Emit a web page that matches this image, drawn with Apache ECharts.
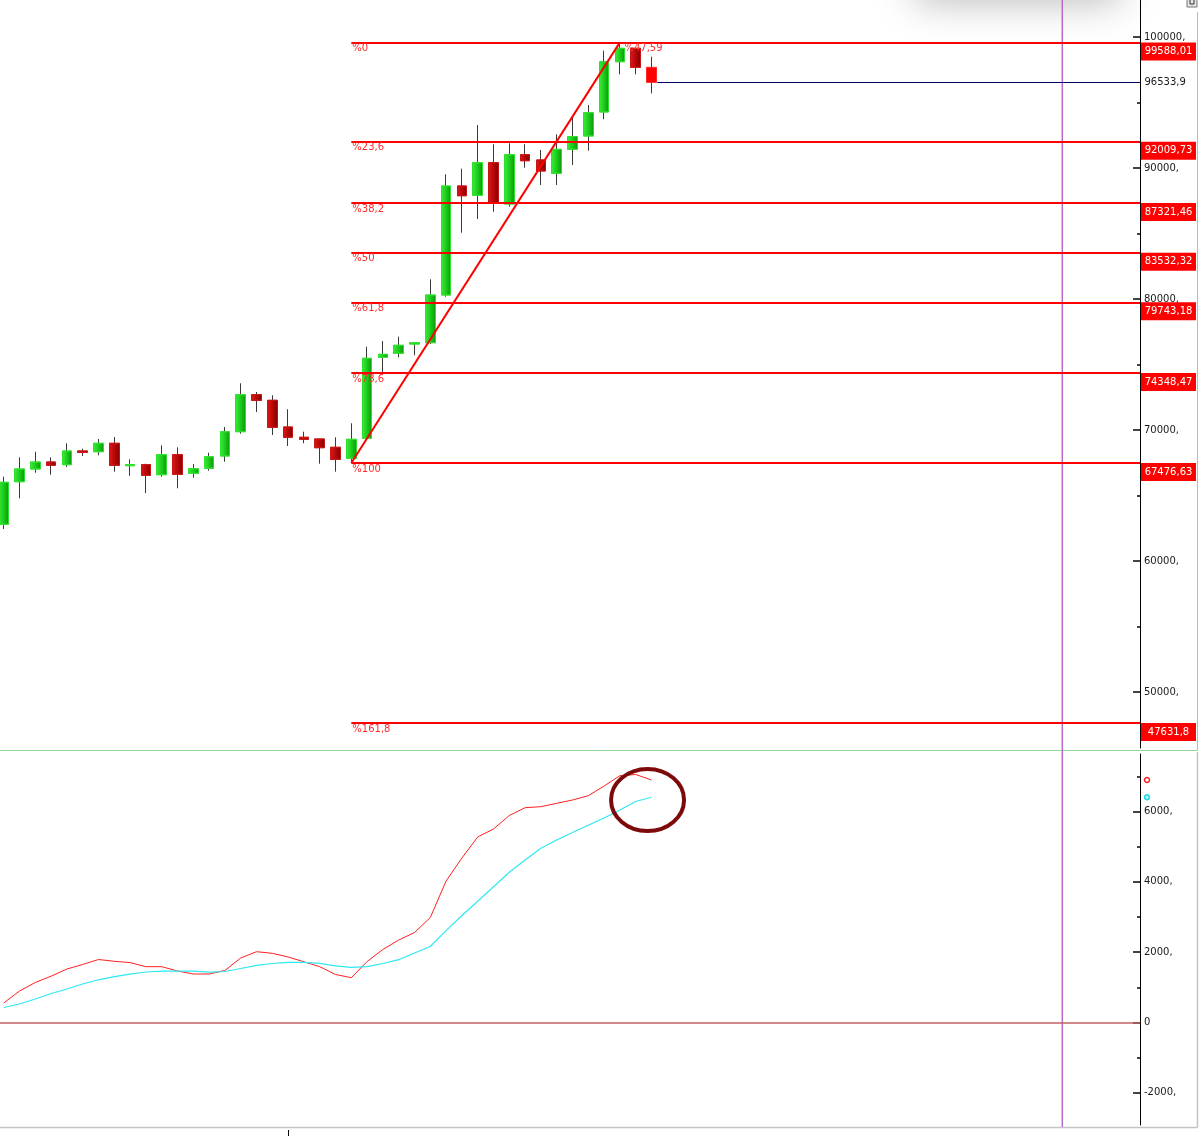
<!DOCTYPE html>
<html><head><meta charset="utf-8">
<script src="https://cdn.jsdelivr.net/npm/echarts@6/dist/echarts.min.js"></script>
<style>html,body{margin:0;padding:0;background:#fff}#c{width:1200px;height:1136px}</style>
</head><body><div id="c"></div>
<script>
// ---------- data ----------
const opens  = [62802,66053,67023,67557,67351,68397,68343,68985,67275,67351,66588,68114,66695,67076,68015,69870,72695,72267,70229,69443,69313,68679,67840,69366,75550,75855,76565,76664,80305,88626,87916,90405,87252,91015,90611,89595,91427,92443,94275,98114,99137,97687];
const closes = [66008,67023,67557,67305,68397,68298,68985,67305,67351,66542,68114,66618,67046,67962,69870,72695,72267,70206,69443,69290,68649,67763,69290,75473,75779,76466,76664,80305,88626,87885,90405,87305,91015,90557,89771,91427,92405,94221,98114,99137,97687,96533.9];
const lows   = [62443,64786,66740,66588,67176,68015,68069,66817,66511,65191,66435,65550,66359,66893,67580,69717,71374,69618,68779,68985,67427,66817,67476.63,69300,74405,75550,75702,76560,80176,85061,86107,86664,87046,90023,88702,88702,90229,91321,93718,97153,97153,95702];
const highs  = [66435,67916,68343,67916,68985,68572,69313,69466,67763,67427,68832,68679,67405,68267,70229,73565,72901,72649,71580,69870,69313,69443,70511,76359,76794,77122,76664,81504,89519,89947,93282,91809,91886,91809,91374,92572,93855,94809,98954,99588.01,99137,98496];

const macdLine   = [555,896,1138,1317,1522,1650,1792,1741,1704,1588,1588,1465,1380,1380,1479,1835,2014,1969,1863,1727,1588,1366,1275,1735,2077,2347,2560,2987,4026,4680,5277,5505,5889,6111,6140,6236,6330,6452,6728,7021,7056,6899];
const signalLine = [427,526,669,825,953,1095,1215,1306,1374,1437,1459,1465,1459,1431,1451,1536,1627,1679,1713,1713,1684,1613,1570,1588,1679,1787,1977,2162,2612,3044,3448,3861,4273,4623,4959,5192,5406,5610,5818,6046,6287,6407];

const fibLevels      = [99588.01,92009.73,87321.46,83532.32,79743.18,74348.47,67476.63,47631.8];
const fibNames       = ['%0','%23,6','%38,2','%50','%61,8','%78,6','%100','%161,8'];
const fibValueLabels = ['99588,01','92009,73','87321,46','83532,32','79743,18','74348,47','67476,63','47631,8'];
const swingStart = 22, swingEnd = 39;
const swingPctLabel = '%47,59';
const lastPrice = 96533.9, lastPriceLabel = '96533,9';

const priceMajorTicks = [50000,60000,70000,80000,90000,100000];
const priceMinorTicks = [55000,65000,75000,85000,95000];
const indMajorTicks = [-2000,0,2000,4000,6000];
const indMinorTicks = [-1000,1000,3000,5000,7000];
const verticalMarkerX = 67;
const bottomTickX = 18;
const annotCenter = [40.75, 6330];

// ---------- axis ranges ----------
const X_MIN = -0.2342, X_MAX = 71.9177;
const PRICE_MIN = 45725.2, PRICE_MAX = 102824.4;
const IND_MIN = -2916.1, IND_MAX = 7638.7;
const FONT = 'DejaVu Sans';

const fmtTick = v => (v === 0 ? '0' : v + ',');

const greenGrad = {type:'linear',x:0,y:0,x2:1,y2:0,colorStops:[{offset:0,color:'#3cf03c'},{offset:0.5,color:'#1ccc1c'},{offset:1,color:'#0a960a'}]};
const redGrad   = {type:'linear',x:0,y:0,x2:1,y2:0,colorStops:[{offset:0,color:'#e01818'},{offset:0.5,color:'#b80808'},{offset:1,color:'#7a0000'}]};

const n = opens.length;
const wickData = opens.map((o,i)=>[i,o,closes[i],lows[i],highs[i]]);
const bodyData = opens.map((o,i)=>{
  const v=[i,o,closes[i],Math.min(o,closes[i]),Math.max(o,closes[i])];
  return i===n-1 ? {value:v,itemStyle:{color0:'#ff0000',borderColor0:'#ff2a2a'}} : v;
});

function yAxisPair(grid, min, max, majors, minors){
  return [
    {gridIndex:grid,type:'value',position:'right',min:min,max:max,scale:true,
     splitLine:{show:false},
     axisLine:{show:true,onZero:false,lineStyle:{color:'#000',width:1}},
     axisTick:{show:true,inside:true,length:7,customValues:majors,lineStyle:{color:'#444',width:2}},
     axisLabel:{show:true,customValues:majors,formatter:fmtTick,color:'#1a1a1a',fontSize:10,fontFamily:FONT,margin:4}},
    {gridIndex:grid,type:'value',position:'right',min:min,max:max,scale:true,
     splitLine:{show:false},axisLine:{show:false,onZero:false},
     axisTick:{show:true,inside:true,length:3,customValues:minors,lineStyle:{color:'#444',width:2}},
     axisLabel:{show:false}}
  ];
}

const option = {
  animation:false,
  backgroundColor:'#fff',
  textStyle:{fontFamily:FONT},
  grid:[
    {left:0,right:60,top:0,height:748},
    {left:0,right:60,top:754,height:371}
  ],
  xAxis:[
    {gridIndex:0,type:'value',min:X_MIN,max:X_MAX,show:false,axisLine:{onZero:false}},
    {gridIndex:1,type:'value',position:'bottom',min:X_MIN,max:X_MAX,show:true,offset:5,
     axisLine:{show:false,onZero:false},splitLine:{show:false},axisLabel:{show:false},
     axisTick:{show:true,length:6,customValues:[bottomTickX],lineStyle:{color:'#000',width:1}}}
  ],
  yAxis:[].concat(
    yAxisPair(0,PRICE_MIN,PRICE_MAX,priceMajorTicks,priceMinorTicks),
    yAxisPair(1,IND_MIN,IND_MAX,indMajorTicks,indMinorTicks)
  ),
  series:[
    {
      name:'wicks',type:'candlestick',xAxisIndex:0,yAxisIndex:0,data:wickData,barWidth:1,
      itemStyle:{color:'#3a3a3a',color0:'#3a3a3a',borderColor:'#3a3a3a',borderColor0:'#3a3a3a',borderWidth:1}
    },
    {
      name:'bodies',type:'candlestick',xAxisIndex:0,yAxisIndex:0,data:bodyData,barWidth:10,clip:false,
      itemStyle:{color:greenGrad,color0:redGrad,borderColor:'#30e030',borderColor0:'#c81414',borderWidth:1},
      markLine:{
        silent:true,animation:false,symbol:['none','none'],
        lineStyle:{type:'solid',color:'#ff0000',width:2},
        label:{show:false},
        data:[].concat(
          fibLevels.map((lv,k)=>[
            {coord:[swingStart,lv],label:{show:true,position:'insideStartBottom',distance:[1,1],
              formatter:()=>fibNames[k],color:'#ff2a2a',fontSize:10,fontFamily:FONT}},
            {coord:[X_MAX,lv]}
          ]),
          [[{coord:[swingStart,lows[swingStart]]},{coord:[swingEnd,highs[swingEnd]]}]],
          [[{coord:[n-1+0.36,lastPrice],lineStyle:{color:'#000060',width:1}},{coord:[X_MAX,lastPrice]}]]
        )
      },
      markPoint:{
        silent:true,animation:false,
        data:[].concat(
          fibLevels.map((lv,k)=>({coord:[X_MAX,lv],symbol:'rect',symbolSize:[55,18],symbolOffset:[28.5,9],
            itemStyle:{color:'#ff0000'},
            label:{show:true,position:'inside',formatter:()=>fibValueLabels[k],color:'#fff',fontSize:10,fontFamily:FONT}})),
          [{coord:[X_MAX,lastPrice],symbol:'rect',symbolSize:[1,1],itemStyle:{color:'rgba(0,0,0,0)'},
            label:{show:true,position:'right',distance:4,formatter:()=>lastPriceLabel,color:'#1a1a1a',fontSize:10,fontFamily:FONT}},
           {coord:[swingEnd,highs[swingEnd]],symbol:'rect',symbolSize:[1,1],itemStyle:{color:'rgba(0,0,0,0)'},
            label:{show:true,position:'right',distance:4,offset:[0,6],formatter:()=>swingPctLabel,color:'#ff3030',fontSize:10,fontFamily:FONT}}]
        )
      }
    },
    {
      name:'MACD',type:'line',xAxisIndex:1,yAxisIndex:2,data:macdLine.map((v,i)=>[i,v]),
      symbol:'none',lineStyle:{color:'#ff2020',width:1},z:3,
      markLine:{silent:true,animation:false,symbol:['none','none'],label:{show:false},
        lineStyle:{type:'solid',color:'#c06060',width:1.5},data:[{yAxis:0}]},
      markPoint:{silent:true,animation:false,
        data:[{coord:[X_MAX,macdLine[n-1]],symbol:'circle',symbolSize:5,symbolOffset:[7,0],
          itemStyle:{color:'#fff',borderColor:'#ff2020',borderWidth:1.5},label:{show:false}}]}
    },
    {
      name:'Signal',type:'line',xAxisIndex:1,yAxisIndex:2,data:signalLine.map((v,i)=>[i,v]),
      symbol:'none',lineStyle:{color:'#2ee8f2',width:1.2},z:3,
      markPoint:{silent:true,animation:false,
        data:[{coord:[X_MAX,signalLine[n-1]],symbol:'circle',symbolSize:5,symbolOffset:[7,0],
          itemStyle:{color:'#a8f8fc',borderColor:'#20d8e8',borderWidth:1.5},label:{show:false}}]}
    }
  ]
};

const chart = echarts.init(document.getElementById('c'),null,{renderer:'canvas'});
chart.setOption(option);

const vx = chart.convertToPixel({xAxisIndex:0},verticalMarkerX);
const ec = chart.convertToPixel({xAxisIndex:1,yAxisIndex:2},annotCenter);
chart.setOption({graphic:[
  {type:'rect',shape:{x:915,y:-40,width:205,height:40},style:{fill:'#d8d8d8',shadowBlur:40,shadowColor:'rgba(0,0,0,0.30)'},z:-1,silent:true},
  {type:'line',shape:{x1:vx,y1:0,x2:vx,y2:1127},style:{stroke:'#b46cc8',lineWidth:1.5},z:1,silent:true},
  {type:'line',shape:{x1:0,y1:750.5,x2:1197.5,y2:750.5},style:{stroke:'#92d892',lineWidth:1},silent:true},
  {type:'line',shape:{x1:1197.5,y1:12,x2:1197.5,y2:750.5},style:{stroke:'#92d892',lineWidth:1},silent:true},
  {type:'line',shape:{x1:1197.5,y1:752,x2:1197.5,y2:1127.5},style:{stroke:'#c4c4c4',lineWidth:1.5},silent:true},
  {type:'line',shape:{x1:0,y1:1127.5,x2:1197.5,y2:1127.5},style:{stroke:'#c4c4c4',lineWidth:1.5},silent:true},
  {type:'rect',shape:{x:1187,y:-4,width:10,height:11},style:{fill:'#e4e4e4',stroke:'#777',lineWidth:1},silent:true},
  {type:'rect',shape:{x:1190,y:-2,width:4,height:6},style:{fill:'none',stroke:'#333',lineWidth:1},silent:true},
  {type:'ellipse',shape:{cx:ec[0],cy:ec[1],rx:36.5,ry:31},style:{fill:'none',stroke:'#7d0a0a',lineWidth:4},z:10,silent:true}
]});
</script>
</body></html>
